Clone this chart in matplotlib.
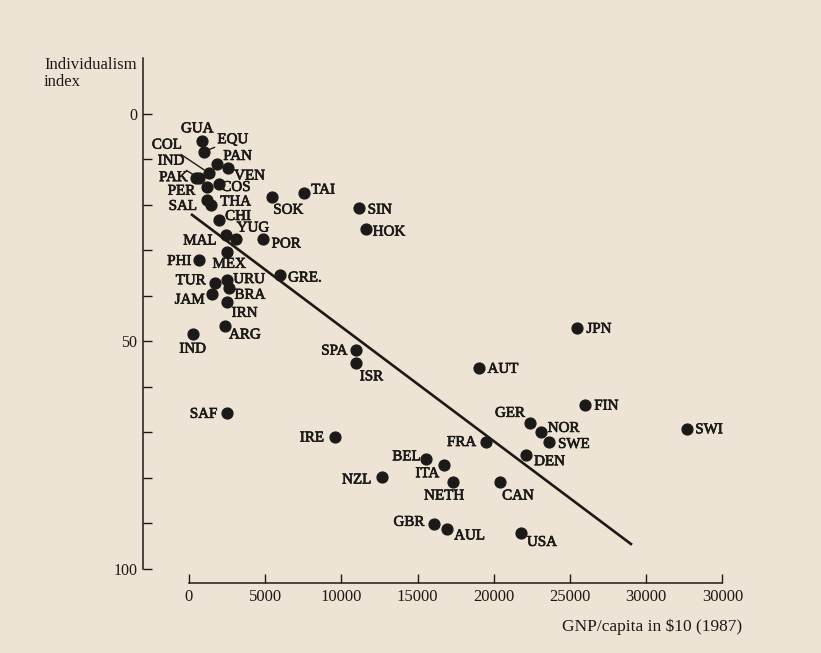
import matplotlib
matplotlib.use('Agg')
import matplotlib.pyplot as plt
import matplotlib.patheffects as pe
from matplotlib import rcParams

rcParams['font.family'] = ['Liberation Serif', 'DejaVu Serif']

# Countries, GNP/capita (in $10, 1987) and individualism index
countries = ['GUA', 'EQU', 'COL', 'PAN', 'VEN', 'PAK', 'IND', 'COS', 'PER', 'THA',
             'SAL', 'CHI', 'SOK', 'TAI', 'SIN', 'HOK', 'MAL', 'YUG', 'POR', 'MEX',
             'PHI', 'GRE.', 'TUR', 'URU', 'BRA', 'JAM', 'IRN', 'ARG', 'IND ', 'JPN',
             'SPA', 'ISR', 'AUT', 'SAF', 'FIN', 'GER', 'NOR', 'SWE', 'SWI', 'IRE',
             'FRA', 'DEN', 'BEL', 'ITA', 'NZL', 'NETH', 'CAN', 'GBR', 'AUL', 'USA']
gnp = [870, 980, 1310, 1820, 2540, 430, 660, 1970, 1160, 1160,
       1440, 1970, 5470, 7550, 11140, 11620, 2430, 3080, 4880, 2510,
       680, 5970, 1690, 2510, 2630, 1490, 2470, 2360, 240, 25460,
       10990, 10990, 19030, 2470, 26010, 22380, 23080, 23620, 32680, 9580,
       19470, 22090, 15530, 16750, 12650, 17340, 20410, 16080, 16910, 21790]
idv = [5.9, 8.3, 13.0, 11.1, 11.9, 14.0, 14.1, 15.5, 16.1, 18.9,
       20.1, 23.2, 18.3, 17.4, 20.7, 25.3, 26.6, 27.5, 27.5, 30.4,
       32.2, 35.4, 37.1, 36.4, 38.3, 39.6, 41.4, 46.6, 48.4, 47.1,
       51.9, 54.7, 55.9, 65.8, 64.0, 68.0, 70.0, 72.2, 69.2, 71.0,
       72.0, 74.9, 75.8, 77.1, 79.8, 80.9, 80.9, 90.2, 91.2, 92.2]

# regression line end points
fit_x = [130, 29070]
fit_y = [22.0, 94.7]

x_ticks = [0, 5000, 10000, 15000, 20000, 25000, 30000, 35000]
x_ticklabels = ['0', '5000', '10000', '15000', '20000', '25000', '30000', '30000']
y_ticks = [0, 10, 20, 30, 40, 50, 60, 70, 80, 90, 100]
y_ticklabels = ['0', '', '', '', '', '50', '', '', '', '', '100']

# label offsets from the dot, in pixels (right, down)
offsets = {
    'GUA': (-5, -12), 'EQU': (29, -12), 'COL': (-42, -28), 'PAN': (21, -8),
    'VEN': (22, 8), 'PAK': (-22, 0), 'IND': (-28, -17), 'COS': (17, 3),
    'PER': (-25, 4), 'THA': (29, 2), 'SAL': (-28, 1), 'CHI': (19, -3),
    'SOK': (16, 13), 'TAI': (19, -3), 'SIN': (21, 2), 'HOK': (23, 3),
    'MAL': (-26, 6), 'YUG': (17, -11), 'POR': (23, 5), 'MEX': (2, 12),
    'PHI': (-20, 1), 'GRE.': (25, 3), 'TUR': (-24, -2), 'URU': (22, 0),
    'BRA': (21, 7), 'JAM': (-22, 6), 'IRN': (18, 11), 'ARG': (20, 9),
    'IND ': (0, 15), 'JPN': (22, 1), 'SPA': (-22, 1), 'ISR': (15, 14),
    'AUT': (24, 1), 'SAF': (-23, 1), 'FIN': (21, 1), 'GER': (-20, -10),
    'NOR': (23, -4), 'SWE': (25, 2), 'SWI': (22, 1), 'IRE': (-23, 1),
    'FRA': (-24, 1), 'DEN': (24, 7), 'BEL': (-19, -2), 'ITA': (-17, 9),
    'NZL': (-25, 3), 'NETH': (-9, 14), 'CAN': (18, 14), 'GBR': (-25, -2),
    'AUL': (23, 7), 'USA': (21, 9),
}
leaders = ['EQU', 'COL', 'IND']

paper = '#eee4d5'
ink = '#1c1a18'
heavy = [pe.withStroke(linewidth=0.5, foreground=ink)]

fig = plt.figure(figsize=(8.21, 6.53), dpi=100)
fig.patch.set_facecolor(paper)

# axes placed so that data (0,0) lands where the book puts it
ax = fig.add_axes([143 / 821, 70 / 653, 602 / 821, 525 / 653])
ax.set_facecolor(paper)
ax.set_xlim(-3018, 36485)
ax.set_ylim(103.1, -12.3)

ax.plot(fit_x, fit_y, color=ink, linewidth=1.9, solid_capstyle='butt', zorder=2)
ax.plot(gnp, idv, linestyle='none', marker='o', markersize=7.8,
        markerfacecolor=ink, markeredgecolor=ink, zorder=3)

for name, x, y in zip(countries, gnp, idv):
    dx, dy = offsets[name]
    arrow = None
    if name in leaders:
        arrow = dict(arrowstyle='-', color=ink, linewidth=1.0, shrinkA=0, shrinkB=4)
    ax.annotate(name.strip(), xy=(x, y), xytext=(dx, -dy), textcoords='offset pixels',
                ha='center', va='center', fontsize=10.8, color=ink,
                path_effects=heavy, arrowprops=arrow)

for side in ['top', 'right']:
    ax.spines[side].set_visible(False)
ax.spines['left'].set_bounds(-12.3, 100)
ax.spines['bottom'].set_bounds(0, 35000)
for side in ['left', 'bottom']:
    ax.spines[side].set_linewidth(1.1)
    ax.spines[side].set_color(ink)

ax.set_xticks(x_ticks)
ax.set_xticklabels(x_ticklabels)
ax.set_yticks(y_ticks)
ax.set_yticklabels(y_ticklabels)
ax.tick_params(axis='x', direction='in', length=6.5, width=1.0, pad=4,
               labelsize=12, colors=ink)
ax.tick_params(axis='y', direction='in', length=6.5, width=1.0, pad=4,
               labelsize=11.5, colors=ink)

fig.text(44 / 821, 1 - 65 / 653, 'Individualism', fontsize=12, color=ink,
         ha='left', va='center')
fig.text(44 / 821, 1 - 82 / 653, 'index', fontsize=12, color=ink,
         ha='left', va='center')
fig.text(742 / 821, 1 - 627 / 653, 'GNP/capita in $10 (1987)', fontsize=12.5,
         color=ink, ha='right', va='center')

fig.savefig('out.png', dpi=100, facecolor=paper)
